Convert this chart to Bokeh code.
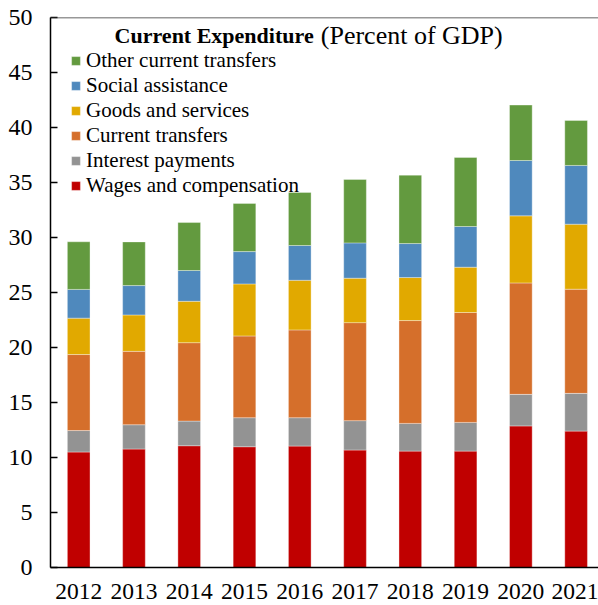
from bokeh.plotting import figure
from bokeh.models import (Range1d, FixedTicker, Legend, LegendItem, Label, Span,
                          ColumnDataSource)
from bokeh.embed import file_html
from bokeh.resources import INLINE

years = [2012, 2013, 2014, 2015, 2016, 2017, 2018, 2019, 2020, 2021]
wages = [10.50, 10.77, 11.07, 10.98, 11.04, 10.68, 10.58, 10.58, 12.87, 12.40]
interest = [1.95, 2.21, 2.24, 2.64, 2.58, 2.67, 2.52, 2.61, 2.87, 3.43]
current_transfers = [6.91, 6.67, 7.13, 7.43, 7.98, 8.91, 9.35, 9.99, 10.13, 9.47]
goods_services = [3.31, 3.31, 3.76, 4.73, 4.51, 4.04, 3.91, 4.12, 6.10, 5.91]
social_assistance = [2.61, 2.67, 2.80, 2.94, 3.16, 3.21, 3.09, 3.70, 5.03, 5.34]
other_transfers = [4.33, 3.97, 4.36, 4.38, 4.83, 5.77, 6.22, 6.28, 5.04, 4.09]

series = ["wages", "interest", "current_transfers", "goods_services",
          "social_assistance", "other_transfers"]
labels = ["Wages and compensation", "Interest payments", "Current transfers",
          "Goods and services", "Social assistance", "Other current transfers"]
colors = ["#C00000", "#939393", "#D56F2B", "#E1A900", "#4F89BD", "#639A3F"]
y_ticks = [0, 5, 10, 15, 20, 25, 30, 35, 40, 45, 50]

src = ColumnDataSource(dict(years=years, wages=wages, interest=interest,
                            current_transfers=current_transfers,
                            goods_services=goods_services,
                            social_assistance=social_assistance,
                            other_transfers=other_transfers))

FONT = "'Liberation Serif'"

p = figure(width=598, height=605, output_backend="svg", toolbar_location=None,
           x_range=Range1d(2011.49, 2021.405), y_range=Range1d(0, 50),
           min_border_left=50, min_border_right=0, min_border_top=17,
           min_border_bottom=38)

renderers = p.vbar_stack(series, x="years", width=0.41, source=src,
                         color=colors, line_color="white", line_alpha=0.35,
                         line_width=1)

p.xgrid.visible = False
p.ygrid.visible = False
p.outline_line_color = None

p.yaxis.ticker = FixedTicker(ticks=y_ticks)
p.yaxis.major_tick_in = 7
p.yaxis.major_tick_out = 0
p.yaxis.minor_tick_line_color = None
p.yaxis.major_label_standoff = 18
p.yaxis.major_label_text_font = FONT
p.yaxis.major_label_text_font_size = "24px"
p.yaxis.major_label_text_color = "black"

p.xaxis.ticker = FixedTicker(ticks=years)
p.xaxis.major_tick_in = 0
p.xaxis.major_tick_out = 0
p.xaxis.minor_tick_line_color = None
p.xaxis.major_label_standoff = 16
p.xaxis.major_label_text_font = FONT
p.xaxis.major_label_text_font_size = "23.5px"
p.xaxis.major_label_text_color = "black"

for ax in (p.xaxis, p.yaxis):
    ax.axis_line_color = "black"
    ax.axis_line_width = 1.5
    ax.major_tick_line_color = "black"
    ax.major_tick_line_width = 1.5

p.add_layout(Span(location=50, dimension="width", line_color="#333333",
                  line_width=1.3))

items = [LegendItem(label=labels[i], renderers=[renderers[i]])
         for i in range(len(series) - 1, -1, -1)]
legend = Legend(items=items, location=(20, 369), orientation="vertical",
                border_line_color=None, background_fill_alpha=0,
                label_text_font=FONT, label_text_font_size="21px",
                label_text_color="black", glyph_width=11, glyph_height=11,
                label_height=25, spacing=0, padding=2, margin=0,
                label_standoff=5)
p.add_layout(legend, "center")

p.add_layout(Label(x=2012.65, y=48.35, text="Current Expenditure",
                   text_font=FONT, text_font_size="22px",
                   text_font_style="bold", text_color="black",
                   text_baseline="alphabetic"))
p.add_layout(Label(x=2016.38, y=48.35, text="(Percent of GDP)",
                   text_font=FONT, text_font_size="26px",
                   text_color="black", text_baseline="alphabetic"))

open("out.html", "w").write(file_html(p, INLINE))
